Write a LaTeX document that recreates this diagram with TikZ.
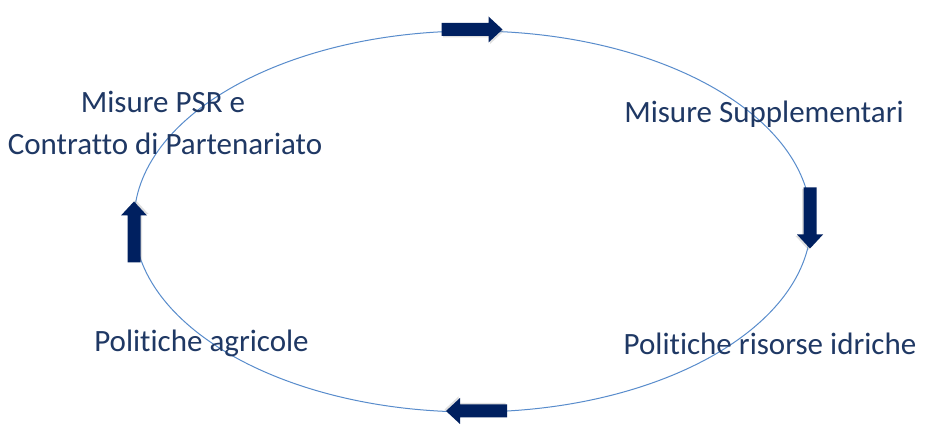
\documentclass[tikz,border=0pt]{standalone}
\usepackage{fontspec}
\setmainfont{Carlito}[Ligatures={NoCommon}]
\usetikzlibrary{shapes.geometric}
\definecolor{ringblue}{RGB}{88,140,204}
\definecolor{arrownavy}{RGB}{0,32,96}
\definecolor{textnavy}{RGB}{31,56,100}
\begin{document}
\begin{tikzpicture}[x=1pt,y=1pt,
  lbl/.style={inner sep=0pt, text=textnavy, font=\fontsize{31}{42}\selectfont},
  ring/.style={draw=ringblue, line width=1pt},
  blockarrow/.pic={
    \fill[black!35, opacity=0.35] (-30.5+1.5,-6.5-1.5) -- (16.5+1.5,-6.5-1.5) -- (16.5+1.5,-13-1.5) -- (30.5+1.5,0-1.5) -- (16.5+1.5,13-1.5) -- (16.5+1.5,6.5-1.5) -- (-30.5+1.5,6.5-1.5) -- cycle;
    \fill[arrownavy] (-30.5,-6.5) -- (16.5,-6.5) -- (16.5,-13) -- (30.5,0) -- (16.5,13) -- (16.5,6.5) -- (-30.5,6.5) -- cycle;
  }]
\useasboundingbox (0,0) rectangle (926,444);
\fill[white] (0,0) rectangle (926,444);
\node[ring, ellipse, minimum width=677pt, minimum height=381pt, inner sep=0pt] (cycle) at (472.5,222.5) {};
\pic at (472,414.5) {blockarrow};
\pic[rotate=-90] at (810,226) {blockarrow};
\pic[rotate=180] at (476.5,33) {blockarrow};
\pic[rotate=90] at (134,212) {blockarrow};
\node[lbl, anchor=base] (supp) at (764,321) {Misure Supplementari};
\node[lbl, anchor=base] (idr) at (770,89) {Politiche risorse idriche};
\node[lbl, anchor=base] (agr) at (201.5,92) {Politiche agricole};
\node[lbl, anchor=base] (psr1) at (163,331) {Misure PSR e};
\node[lbl, anchor=base] (psr2) at (165,289) {Contratto di Partenariato};
\end{tikzpicture}
\end{document}
